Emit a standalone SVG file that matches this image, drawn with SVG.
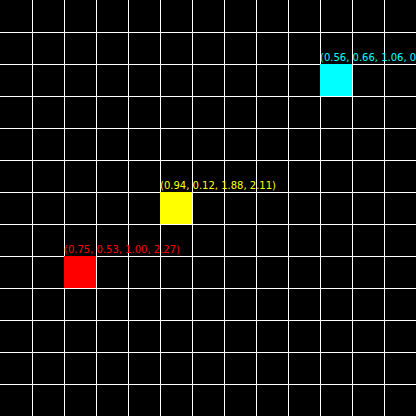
<svg xmlns="http://www.w3.org/2000/svg" width="416" height="416" viewBox="0 0 416 416">
<style>
.grid line{stroke:#ffffff;stroke-width:1}
.lbl{font-family:"DejaVu Sans",sans-serif;font-size:10px}
</style>
<rect width="416" height="416" fill="#000"/>
<g class="grid" id="grid">
<line x1="32.5" y1="0" x2="32.5" y2="416"/>
<line x1="64.5" y1="0" x2="64.5" y2="416"/>
<line x1="96.5" y1="0" x2="96.5" y2="416"/>
<line x1="128.5" y1="0" x2="128.5" y2="416"/>
<line x1="160.5" y1="0" x2="160.5" y2="416"/>
<line x1="192.5" y1="0" x2="192.5" y2="416"/>
<line x1="224.5" y1="0" x2="224.5" y2="416"/>
<line x1="256.5" y1="0" x2="256.5" y2="416"/>
<line x1="288.5" y1="0" x2="288.5" y2="416"/>
<line x1="320.5" y1="0" x2="320.5" y2="416"/>
<line x1="352.5" y1="0" x2="352.5" y2="416"/>
<line x1="384.5" y1="0" x2="384.5" y2="416"/>
<line y1="32.5" x1="0" y2="32.5" x2="416"/>
<line y1="64.5" x1="0" y2="64.5" x2="416"/>
<line y1="96.5" x1="0" y2="96.5" x2="416"/>
<line y1="128.5" x1="0" y2="128.5" x2="416"/>
<line y1="160.5" x1="0" y2="160.5" x2="416"/>
<line y1="192.5" x1="0" y2="192.5" x2="416"/>
<line y1="224.5" x1="0" y2="224.5" x2="416"/>
<line y1="256.5" x1="0" y2="256.5" x2="416"/>
<line y1="288.5" x1="0" y2="288.5" x2="416"/>
<line y1="320.5" x1="0" y2="320.5" x2="416"/>
<line y1="352.5" x1="0" y2="352.5" x2="416"/>
<line y1="384.5" x1="0" y2="384.5" x2="416"/>
</g>
<g id="cyan">
<rect x="320" y="64" width="32" height="32" fill="#00ffff"/>
<text class="lbl" x="320" y="61" fill="#00ffff">(0.56, 0.66, 1.06, 0.</text>
</g>
<g id="yellow">
<rect x="160" y="192" width="32" height="32" fill="#ffff00"/>
<text class="lbl" x="160" y="189" fill="#ffff00">(0.94, 0.12, 1.88, 2.11)</text>
</g>
<g id="red">
<rect x="64" y="256" width="32" height="32" fill="#ff0000"/>
<text class="lbl" x="64" y="253" fill="#ff0000">(0.75, 0.53, 1.00, 2.27)</text>
</g>
</svg>
